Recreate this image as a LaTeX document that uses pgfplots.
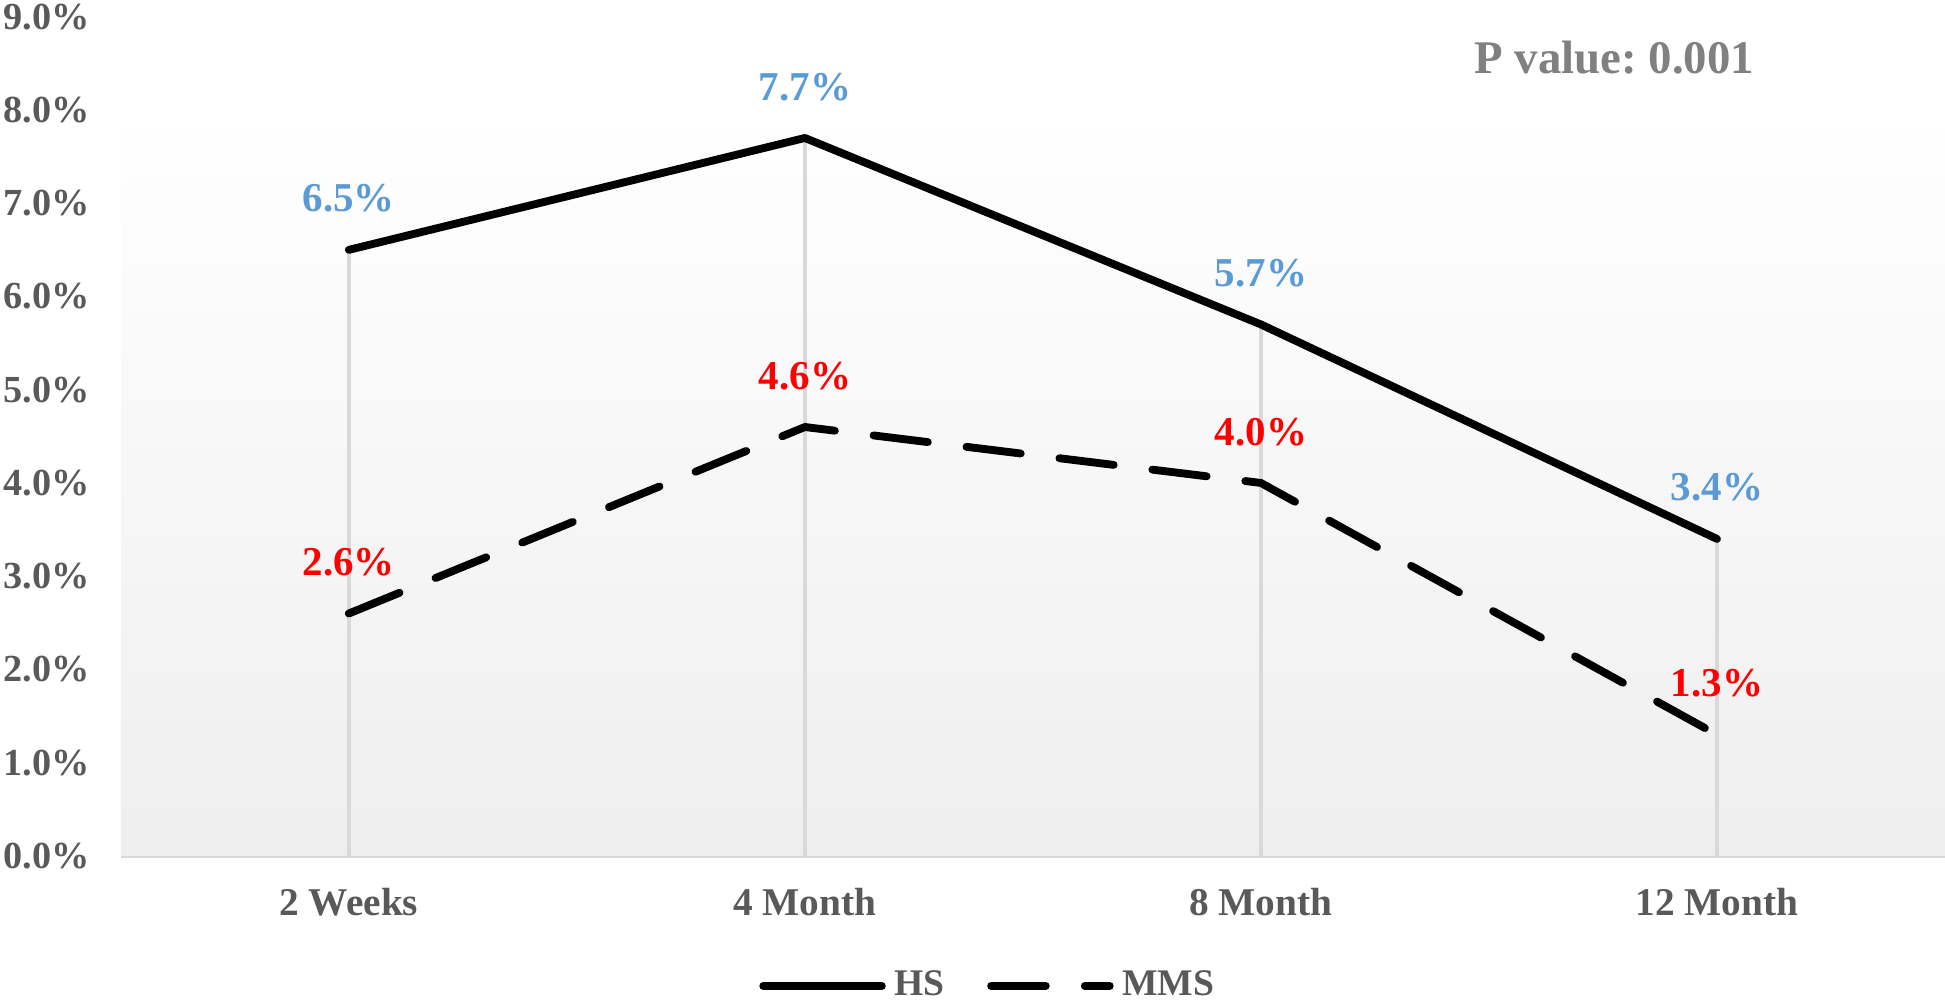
\documentclass[border=0pt]{standalone}
\usepackage{pgfplots}
\pgfplotsset{compat=1.18}
\usepackage{fontspec}
\setmainfont{Liberation Serif}

\definecolor{txtgray}{HTML}{595959}
\definecolor{pgray}{HTML}{808080}
\definecolor{hsblue}{HTML}{5B9BD5}
\definecolor{mmsred}{HTML}{FF0000}
\definecolor{gridgray}{HTML}{D9D9D9}

\begin{document}
\begin{tikzpicture}
\begin{axis}[
  scale only axis,
  width=18.76cm, height=8.63cm,
  xmin=-0.5, xmax=3.5,
  ymin=0, ymax=9,
  xtick={0,1,2,3},
  xticklabels={2 Weeks,4 Month,8 Month,12 Month},
  ytick={0,1,...,9},
  yticklabel={\pgfmathprintnumber[fixed,fixed zerofill,precision=1]{\tick}\%},
  /pgf/number format/assume math mode=true,
  axis x line*=bottom, axis y line*=left,
  y axis line style={draw=none},
  x axis line style={draw=gridgray, line width=1pt},
  major tick length=0pt,
  tick label style={font=\fontsize{11.5}{13}\selectfont\bfseries, text=txtgray},
  xticklabel style={yshift=-6pt},
  yticklabel style={xshift=-5.5pt, font=\fontsize{11.2}{13}\selectfont\bfseries},
  legend style={at={(axis description cs:0.477,-0.155)}, anchor=center,
    draw=none, fill=none, font=\fontsize{11}{13}\selectfont\bfseries,
    text=txtgray, legend columns=2, nodes={inner xsep=2.5pt},
    /tikz/every even column/.append style={column sep=10pt}},
  legend image code/.code={\draw[#1] (0cm,0cm) -- (1.22cm,0cm);},
  clip=false,
]
% plot area background
\fill[top color=white, bottom color=gray!13, draw=none]
  (axis cs:-0.5,0) rectangle (axis cs:3.5,8);

% drop lines
\addplot[ycomb, draw=gridgray, line width=1pt, forget plot]
  coordinates {(0,6.5) (1,7.7) (2,5.7) (3,3.4)};

% HS
\addplot[black, line width=2.3pt, line cap=round, line join=round,
  nodes near coords={\pgfmathprintnumber[fixed,fixed zerofill,precision=1]{\pgfplotspointmeta}\%},
  every node near coord/.style={anchor=center, yshift=15pt,
    font=\fontsize{12}{14}\selectfont\bfseries, text=hsblue}]
  coordinates {(0,6.5) (1,7.7) (2,5.7) (3,3.4)};
\addlegendentry{HS}

% MMS
\addplot[black, line width=2.3pt, line cap=round, line join=round,
  dash pattern=on 16pt off 11.4pt,
  nodes near coords={\pgfmathprintnumber[fixed,fixed zerofill,precision=1]{\pgfplotspointmeta}\%},
  every node near coord/.style={anchor=center, yshift=15pt,
    font=\fontsize{12}{14}\selectfont\bfseries, text=mmsred}]
  coordinates {(0,2.6) (1,4.6) (2,4.0) (3,1.3)};
\addlegendentry{MMS}

\node[font=\fontsize{13.7}{16}\selectfont\bfseries, text=pgray]
  at (axis cs:2.775,8.56) {P value:\ 0.001};

\coordinate (bbtl) at (axis cs:-0.765,9.18);
\coordinate (bbbr) at (axis cs:3.5,-1.545);
\end{axis}
\pgfresetboundingbox
\useasboundingbox (bbtl) rectangle (bbbr);
\end{tikzpicture}
\end{document}
